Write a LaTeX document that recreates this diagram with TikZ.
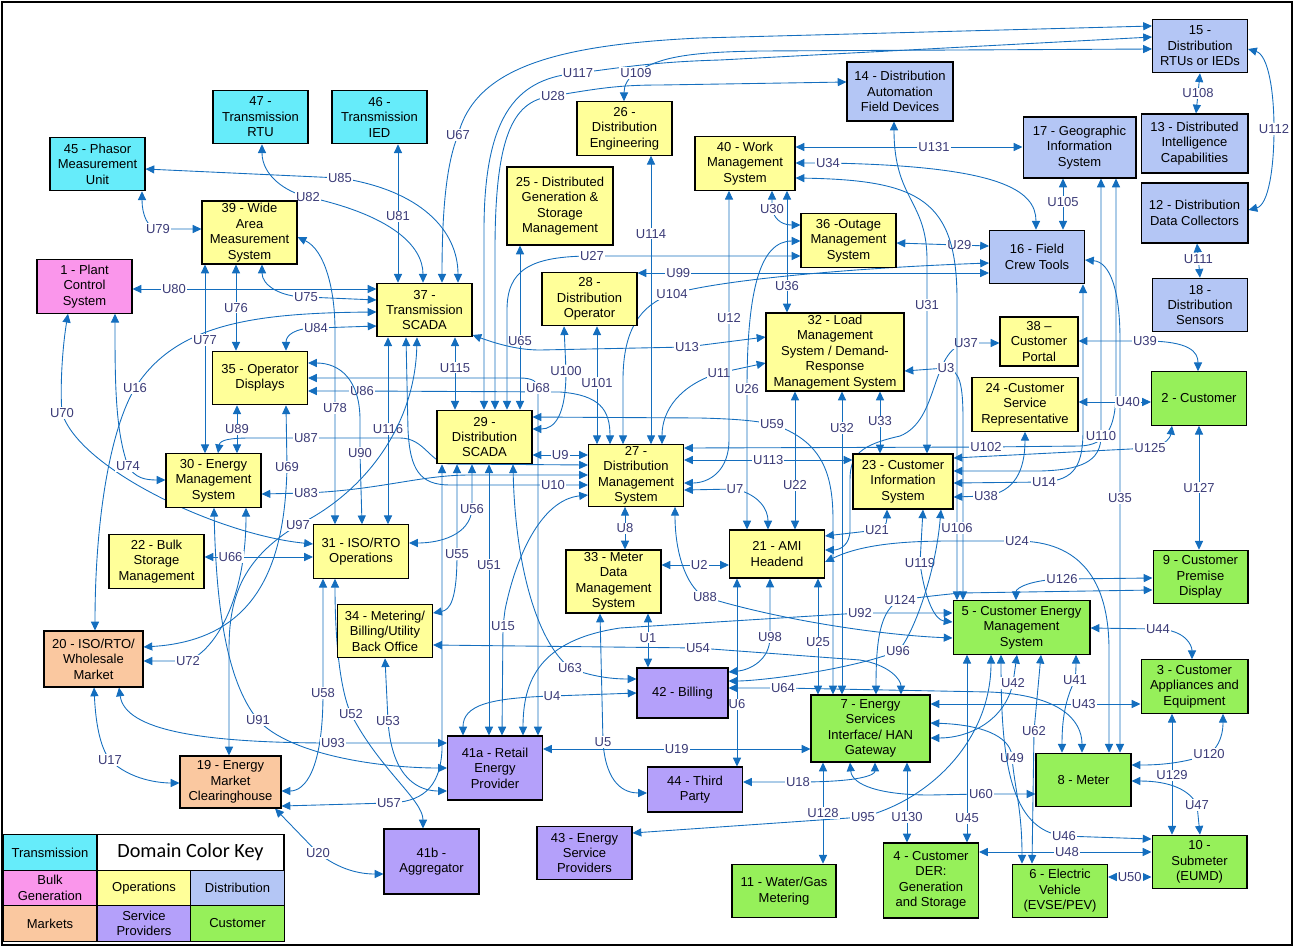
\documentclass[tikz,border=0pt]{standalone}
\usepackage{fontspec}
\setmainfont{Liberation Sans}
\newfontfamily\keyfamily{Carlito}
\usetikzlibrary{arrows.meta}

\definecolor{trans}{RGB}{102,236,250}
\definecolor{bulk}{RGB}{250,150,235}
\definecolor{ops}{RGB}{255,255,153}
\definecolor{dist}{RGB}{180,198,245}
\definecolor{mkt}{RGB}{250,200,160}
\definecolor{svc}{RGB}{180,160,250}
\definecolor{cust}{RGB}{150,240,90}
\definecolor{lnk}{RGB}{20,110,190}
\definecolor{lbltxt}{RGB}{60,60,120}

\pgfdeclarelayer{bg}
\pgfsetlayers{bg,main}

\newcommand\boxfnt{\fontsize{7.4}{8.8}\selectfont}
\newcommand\keyfnt{\keyfamily\fontsize{11.5}{13}\selectfont}

\tikzset{
  blk/.style={draw, line width=0.6pt, align=center, inner sep=1pt,
    minimum width=1.9cm, minimum height=1.07cm, font=\boxfnt},
  transbox/.style={blk, fill=trans},
  bulkbox/.style={blk, fill=bulk},
  opsbox/.style={blk, fill=ops},
  distbox/.style={blk, fill=dist},
  mktbox/.style={blk, fill=mkt},
  svcbox/.style={blk, fill=svc},
  custbox/.style={blk, fill=cust},
  link/.style={draw=lnk, line width=0.5pt, <->, >={Triangle[length=5pt,width=4.6pt]}},
  lbl/.style={fill=white, text=lbltxt, inner sep=0.6pt, font=\boxfnt},
  keycell/.style={draw, line width=0.6pt, align=center, inner sep=1pt,
    minimum width=1.88cm, minimum height=0.71cm, font=\boxfnt},
}

\begin{document}
\begin{tikzpicture}[x=0.02cm, y=-0.02cm]
\useasboundingbox (0,0) rectangle (1294,947);
\draw[line width=0.8pt] (2,2) rectangle (1292,945);

% transmission / bulk
\node[transbox] (n45) at (97.5,164) {45 - Phasor\\Measurement\\Unit};
\node[transbox] (n47) at (260.5,117) {47 -\\Transmission\\RTU};
\node[transbox] (n46) at (379.5,117) {46 -\\Transmission\\IED};
\node[bulkbox] (n1) at (84.5,286.5) {1 - Plant\\Control\\System};

% operations
\node[opsbox, minimum height=1.26cm] (n39) at (249.5,232.5) {39 - Wide\\Area\\Measurement\\System};
\node[opsbox] (n37) at (424.5,310) {37 -\\Transmission\\SCADA};
\node[opsbox] (n26) at (624.5,128.5) {26 -\\Distribution\\Engineering};
\node[opsbox, minimum width=2.12cm, minimum height=1.56cm] (n25) at (560,206) {25 - Distributed\\Generation \&\\Storage\\Management};
\node[opsbox] (n28) at (589.5,299) {28 -\\Distribution\\Operator};
\node[opsbox, minimum width=2cm] (n40) at (745,163.5) {40 - Work\\Management\\System};
\node[opsbox] (n36) at (848.5,240.5) {36 -Outage\\Management\\System};
\node[opsbox] (n35) at (260,378) {35 - Operator\\Displays};
\node[opsbox] (n30) at (213.5,480.5) {30 - Energy\\Management\\System};
\node[opsbox] (n22) at (156.5,561.5) {22 - Bulk\\Storage\\Management};
\node[opsbox] (n31) at (361,551.5) {31 - ISO/RTO\\Operations};
\node[opsbox] (n29) at (484.5,437) {29 -\\Distribution\\SCADA};
\node[opsbox, minimum height=1.18cm] (n27) at (636,475.5) {27 -\\Distribution\\Management\\System};
\node[opsbox, minimum height=1.26cm] (n33) at (613.5,581.5) {33 - Meter\\Data\\Management\\System};
\node[opsbox] (n34) at (385,631) {34 - Metering/\\Billing/Utility\\Back Office};
\node[opsbox, minimum width=2.76cm, minimum height=1.56cm] (n32) at (835,352) {32 - Load\\Management\\System / Demand-\\Response\\Management System};
\node[opsbox, minimum width=2cm, minimum height=1.1cm] (n23) at (903,481.5) {23 - Customer\\Information\\System};
\node[opsbox, minimum height=0.96cm] (n21) at (777,554) {21 - AMI\\Headend};
\node[opsbox, minimum width=1.56cm, minimum height=0.98cm] (n38) at (1039,341.5) {38 –\\Customer\\Portal};
\node[opsbox, minimum width=2.12cm] (n24) at (1025,404.5) {24 -Customer\\Service\\Representative};

% distribution
\node[distbox, minimum width=2.12cm, minimum height=1.18cm] (n14) at (900,91.5) {14 - Distribution\\Automation\\Field Devices};
\node[distbox] (n15) at (1200,46) {15 -\\Distribution\\RTUs or IEDs};
\node[distbox, minimum width=2.14cm, minimum height=1.18cm] (n13) at (1194.5,143.5) {13 - Distributed\\Intelligence\\Capabilities};
\node[distbox, minimum width=2.26cm, minimum height=1.22cm] (n17) at (1079.5,147.5) {17 - Geographic\\Information\\System};
\node[distbox, minimum width=2.14cm, minimum height=1.2cm] (n12) at (1194.5,213) {12 - Distribution\\Data Collectors};
\node[distbox] (n16) at (1037,257) {16 - Field\\Crew Tools};
\node[distbox] (n18) at (1200,305) {18 -\\Distribution\\Sensors};

% markets / service providers
\node[mktbox, minimum width=1.98cm, minimum height=1.12cm] (n20) at (93.5,659) {20 - ISO/RTO/\\Wholesale\\Market};
\node[mktbox, minimum width=2.02cm, minimum height=1.04cm] (n19) at (230.5,782) {19 - Energy\\Market\\Clearinghouse};
\node[svcbox, minimum height=1.28cm] (n41a) at (495,768) {41a - Retail\\Energy\\Provider};
\node[svcbox, minimum height=1.3cm] (n41b) at (431.5,861.5) {41b -\\Aggregator};
\node[svcbox] (n43) at (584.5,853) {43 - Energy\\Service\\Providers};
\node[svcbox, minimum width=1.82cm, minimum height=1cm] (n42) at (682.5,693) {42 - Billing};
\node[svcbox, minimum height=0.9cm] (n44) at (695,789.5) {44 - Third\\Party};

% customer
\node[custbox] (n2) at (1199,398.5) {2 - Customer};
\node[custbox] (n9) at (1200.5,577) {9 - Customer\\Premise\\Display};
\node[custbox, minimum width=2.74cm] (n5) at (1021.5,627.5) {5 - Customer Energy\\Management\\System};
\node[custbox, minimum width=2.38cm, minimum height=1.34cm] (n7) at (870.5,728.5) {7 - Energy\\Services\\Interface/ HAN\\Gateway};
\node[custbox, minimum width=2.08cm] (n11) at (784,891) {11 - Water/Gas\\Metering};
\node[custbox, minimum height=1.5cm] (n4) at (931,880.5) {4 - Customer\\DER:\\Generation\\and Storage};
\node[custbox, minimum width=2.14cm] (n3) at (1194.5,686.5) {3 - Customer\\Appliances and\\Equipment};
\node[custbox] (n8) at (1083.5,780) {8 - Meter};
\node[custbox] (n10) at (1199.5,862) {10 -\\Submeter\\(EUMD)};
\node[custbox] (n6) at (1060,891) {6 - Electric\\Vehicle\\(EVSE/PEV)};

% colour key
\node[keycell, fill=trans] (legtrans) at (50,852.5) {Transmission};
\node[keycell, minimum width=3.74cm, font=\keyfnt] (legtitle) at (190.5,852.5) {Domain Color Key};
\node[keycell, fill=bulk] (legbulk) at (50,888) {Bulk\\Generation};
\node[keycell, fill=ops] (legops) at (144,888) {Operations};
\node[keycell, fill=dist] (legdist) at (237.5,888) {Distribution};
\node[keycell, fill=mkt] (legmkt) at (50,923.5) {Markets};
\node[keycell, fill=svc] (legsvc) at (144,923.5) {Service\\Providers};
\node[keycell, fill=cust] (legcust) at (237.5,923.5) {Customer};

\begin{pgfonlayer}{bg}
% left side
\draw[link] (142,0|-n45.south) .. controls (142,215) and (148,229) .. (158,229) node[lbl] (u79) {U79} -- (n39.west|-0,229);
\draw[link] (n1.east|-0,289) -- node[lbl,pos=0.17] (u80) {U80} (n37.west|-0,289);
\draw[link] (262,0|-n39.south) .. controls (262,285) and (280,297) .. (306,297) node[lbl] (u75) {U75} -- (n37.west|-0,300);
\draw[link] (95,0|-n20.north) .. controls (95,520) and (110,430) .. (135,388) node[lbl] (u16) {U16} .. controls (175,325) and (250,313) .. (n37.west|-0,312);
\draw[link] (286,0|-n35.north) .. controls (286,335) and (295,328) .. (316,328) node[lbl] (u84) {U84} -- (n37.west|-0,326);
\draw[link] (68,0|-n1.south) .. controls (62,350) and (60,390) .. (62,413) node[lbl] (u70) {U70} .. controls (80,470) and (220,535) .. (n31.west|-0,544);
\draw[link] (115,0|-n1.south) .. controls (115,380) and (115,430) .. (128,466) node[lbl] (u74) {U74} .. controls (135,478) and (145,480) .. (n30.west|-0,480);
\draw[link] (205,0|-n39.south) -- node[lbl,pos=0.4] (u77) {U77} (205,0|-n30.north);
\draw[link] (236,0|-n39.south) -- node[lbl,pos=0.5] (u76) {U76} (236,0|-n35.north);
\draw[link] (n39.east|-0,237) .. controls (325,250) and (335,290) .. (335,330) -- (335,408) node[lbl] (u78) {U78} -- (335,0|-n31.north);
\draw[link] (n45.east|-0,169) -- (340,178) node[lbl] (u85) {U85} .. controls (420,190) and (458,230) .. (458,0|-n37.north);
\draw[link] (262,0|-n47.south) .. controls (262,175) and (285,192) .. (308,197) node[lbl] (u82) {U82} .. controls (390,215) and (423,245) .. (423,0|-n37.north);
\draw[link] (398,0|-n46.south) -- node[lbl,pos=0.52] (u81) {U81} (398,0|-n37.north);
\draw[link] (442,0|-n37.north) .. controls (442,200) and (448,160) .. (458,135) node[lbl] (u67) {U67} .. controls (475,70) and (550,45) .. (700,38) -- (n15.west|-0,26);
\draw[link] (484,0|-n29.north) -- (484,230) .. controls (484,110) and (520,78) .. (578,73) node[lbl] (u117) {U117} .. controls (620,68) and (650,62) .. (720,60) -- (n15.west|-0,37);
\draw[link] (495,0|-n29.north) -- (495,250) .. controls (495,130) and (515,100) .. (553,96) node[lbl] (u28) {U28} .. controls (600,88) and (620,85) .. (660,85) -- (n14.west|-0,82);
\draw[link] (624,0|-n26.north) .. controls (624,85) and (628,78) .. (636,73) node[lbl] (u109) {U109} .. controls (660,55) and (700,52) .. (760,51) -- (n15.west|-0,49);
\draw[link] (651,0|-n26.south) -- node[lbl,pos=0.27] (u114) {U114} (651,0|-n27.north);
\draw[link] (520,0|-n25.south) -- node[lbl,pos=0.58] (u65) {U65} (520,0|-n29.north);
\draw[link] (n36.west|-0,256) -- (592,256) node[lbl] (u27) {U27} .. controls (530,256) and (507,270) .. (507,310) -- (507,0|-n29.north);
\draw[link] (n28.east|-0,273) -- node[lbl,pos=0.116] (u99) {U99} (n16.west|-0,273);
\draw[link] (n36.east|-0,243) -- node[lbl,pos=0.68] (u29) {U29} (n16.west|-0,246);
\draw[link] (n16.west|-0,263) .. controls (850,268) and (720,280) .. (672,294) node[lbl] (u104) {U104} .. controls (640,305) and (623,330) .. (623,380) -- (623,0|-n27.north);
\draw[link] (597,0|-n28.south) -- node[lbl,pos=0.48] (u101) {U101} (597,0|-n27.north);
\draw[link] (564,0|-n28.south) -- (566,371) node[lbl] (u100) {U100} .. controls (566,415) and (555,429) .. (n29.east|-0,429);
\draw[link] (n29.east|-0,417) -- (700,418) .. controls (740,419) and (755,421) .. (772,424) node[lbl] (u59) {U59} .. controls (820,440) and (833,470) .. (833,520) -- (833,0|-n7.north);
\draw[link] (n35.east|-0,391) -- (362,391) node[lbl] (u86) {U86} -- (560,392) .. controls (600,395) and (610,410) .. (610,0|-n27.north);
\draw[link] (n35.east|-0,378) -- (520,378) .. controls (533,378) and (538,382) .. (538,388) node[lbl] (u68) {U68} -- (538,0|-n41a.north);
\draw[link] (n35.east|-0,363) .. controls (340,363) and (360,380) .. (360,420) -- (360,453) node[lbl] (u90) {U90} -- (362,0|-n31.north);
\draw[link] (388,0|-n37.south) -- node[lbl,pos=0.49] (u116) {U116} (388,0|-n31.north);
\draw[link] (455,0|-n37.south) -- node[lbl,pos=0.42] (u115) {U115} (455,0|-n29.north);
\draw[link] (n37.east|-0,335) .. controls (500,345) and (520,350) .. (540,350) -- (687,347) node[lbl] (u13) {U13} -- (n32.west|-0,337);
\draw[link] (n32.west|-0,363) -- (719,373) node[lbl] (u11) {U11} .. controls (680,385) and (662,410) .. (662,0|-n27.north);
\draw[link] (729,0|-n40.south) -- (729,318) node[lbl] (u12) {U12} -- (729,440) .. controls (729,470) and (710,483) .. (n27.east|-0,483);
\draw[link] (747,0|-n21.north) -- (747,389) node[lbl] (u26) {U26} .. controls (747,290) and (760,241) .. (n36.west|-0,241);
\draw[link] (772,0|-n40.south) -- (772,209) node[lbl] (u30) {U30} .. controls (775,222) and (785,225) .. (n36.west|-0,225);
\draw[link] (787,0|-n40.south) -- node[lbl,pos=0.78] (u36) {U36} (787,0|-n32.north);
\draw[link] (n40.east|-0,163) -- (828,163) node[lbl] (u34) {U34} .. controls (1000,166) and (1036,190) .. (1036,0|-n16.north);
\draw[link] (n40.east|-0,147) -- node[lbl,pos=0.61] (u131) {U131} (n17.west|-0,147);
\draw[link] (894,0|-n14.south) .. controls (894,200) and (927,200) .. (927,260) -- (927,305) node[lbl] (u31) {U31} -- (927,0|-n23.north);
\draw[link] (880,0|-n32.south) -- node[lbl,pos=0.48] (u33) {U33} (880,0|-n23.north);
\draw[link] (842,0|-n32.south) -- node[lbl,pos=0.12] (u32) {U32} (842,0|-n7.north);
\draw[link] (795,0|-n32.south) -- node[lbl,pos=0.68] (u22) {U22} (795,0|-n21.north);
\draw[link] (887,0|-n23.south) .. controls (887,525) and (882,530) .. (877,530) node[lbl] (u21) {U21} -- (n21.east|-0,536);
\draw[link] (n38.west|-0,343) -- (966,343) node[lbl] (u37) {U37} .. controls (930,350) and (940,420) .. (900,436) .. controls (860,445) and (850,455) .. (850,480) -- (850,530) .. controls (850,545) and (840,550) .. (n21.east|-0,550);
\draw[link] (n32.east|-0,371) -- (946,368) node[lbl] (u3) {U3} .. controls (960,370) and (963,385) .. (963,420) -- (963,0|-n5.north);
\draw[link] (n40.east|-0,178) .. controls (920,180) and (957,200) .. (957,300) -- (957,528) node[lbl] (u106) {U106} -- (957,0|-n5.north);
\draw[link] (n21.east|-0,562) .. controls (860,545) and (900,541) .. (950,541) -- (1017,541) node[lbl] (u24) {U24} .. controls (1080,541) and (1109,580) .. (1109,650) -- (1109,0|-n8.north);
\draw[link] (n16.east|-0,260) .. controls (1110,262) and (1120,290) .. (1120,340) -- (1120,498) node[lbl] (u35) {U35} -- (1120,0|-n8.north);
\draw[link] (1063,0|-n17.south) -- node[lbl,pos=0.45] (u105) {U105} (1063,0|-n16.north);
\draw[link] (1200,0|-n15.south) -- node[lbl,pos=0.5] (u108) {U108} (1196,0|-n13.north);
\draw[link] (1197,0|-n12.south) -- node[lbl,pos=0.45] (u111) {U111} (1200,0|-n18.north);
\draw[link] (n15.east|-0,49) .. controls (1268,55) and (1274,90) .. (1274,129) node[lbl] (u112) {U112} .. controls (1274,170) and (1268,205) .. (n12.east|-0,210);
\draw[link] (n27.east|-0,448) -- (986,447) node[lbl] (u102) {U102} -- (1080,446) .. controls (1105,445) and (1116,430) .. (1116,390) -- (1116,0|-n17.south);
\draw[link] (n27.east|-0,460) -- node[lbl,pos=0.5] (u113) {U113} (n23.west|-0,460);
\draw[link] (1101,0|-n17.south) -- (1101,436) node[lbl] (u110) {U110} .. controls (1101,462) and (1080,470) .. (1040,471) -- (n23.east|-0,471);
\draw[link] (1172,0|-n2.south) .. controls (1170,440) and (1160,447) .. (1150,448) node[lbl] (u125) {U125} -- (n23.east|-0,458);
\draw[link] (n23.east|-0,483) -- (1044,482) node[lbl] (u14) {U14} .. controls (1075,480) and (1083,465) .. (1083,430) -- (1083,0|-n16.south);
\draw[link] (n23.east|-0,497) -- (986,496) node[lbl] (u38) {U38} .. controls (1015,492) and (1025,470) .. (1025,0|-n24.south);
\draw[link] (n38.east|-0,341) -- (1145,341) node[lbl] (u39) {U39} .. controls (1190,341) and (1198,352) .. (1198,0|-n2.north);
\draw[link] (n24.east|-0,402) -- node[lbl,pos=0.68] (u40) {U40} (n2.west|-0,402);
\draw[link] (1199,0|-n2.south) -- node[lbl,pos=0.5] (u127) {U127} (1199,0|-n9.north);
\draw[link] (n9.west|-0,578) -- (1062,579) node[lbl] (u126) {U126} .. controls (1030,580) and (1016,588) .. (1016,0|-n5.north);
\draw[link] (n9.west|-0,590) -- (960,593) .. controls (930,596) and (915,598) .. (900,600) node[lbl] (u124) {U124} .. controls (880,610) and (876,640) .. (876,0|-n7.north);
\draw[link] (923,0|-n23.south) -- (920,563) node[lbl] (u119) {U119} .. controls (925,600) and (935,620) .. (n5.west|-0,622);
\draw[link] (941,0|-n23.south) .. controls (935,580) and (910,640) .. (898,651) node[lbl] (u96) {U96} .. controls (850,670) and (760,681) .. (n42.east|-0,681);
\draw[link] (523,0|-n41a.north) .. controls (523,680) and (540,640) .. (620,628) -- (860,613) node[lbl] (u92) {U92} -- (n5.west|-0,613);
\draw[link] (675,0|-n27.south) .. controls (675,560) and (690,590) .. (705,597) node[lbl] (u88) {U88} .. controls (780,620) and (880,635) .. (n5.west|-0,638);
\draw[link] (770,0|-n21.south) -- (770,637) node[lbl] (u98) {U98} .. controls (770,660) and (750,670) .. (n42.east|-0,672);
\draw[link] (818,0|-n21.south) -- node[lbl,pos=0.55] (u25) {U25} (818,0|-n7.north);
\draw[link] (n42.east|-0,688) -- (783,688) node[lbl] (u64) {U64} -- (990,692) .. controls (1060,695) and (1082,720) .. (1082,0|-n8.north);
\draw[link] (n34.east|-0,645) -- (698,648) node[lbl] (u54) {U54} -- (860,660) .. controls (890,665) and (901,680) .. (901,0|-n7.north);
\draw[link] (648,0|-n33.south) -- node[lbl,pos=0.45] (u1) {U1} (648,0|-n42.north);
\draw[link] (n33.east|-0,565) -- node[lbl,pos=0.56] (u2) {U2} (n21.west|-0,565);
\draw[link] (463,0|-n41a.north) .. controls (463,705) and (490,698) .. (552,696) node[lbl] (u4) {U4} -- (n42.west|-0,693);
\draw[link] (513,0|-n29.south) .. controls (515,560) and (535,640) .. (570,668) node[lbl] (u63) {U63} .. controls (590,676) and (610,679) .. (n42.west|-0,679);
\draw[link] (600,0|-n33.south) -- (603,742) node[lbl] (u5) {U5} .. controls (606,785) and (625,793) .. (n44.west|-0,793);
\draw[link] (737,0|-n21.south) -- node[lbl,pos=0.67] (u6) {U6} (737,0|-n44.north);
\draw[link] (n41a.east|-0,749) -- node[lbl,pos=0.5] (u19) {U19} (n7.west|-0,749);
\draw[link] (n27.east|-0,490) -- (735,489) node[lbl] (u7) {U7} .. controls (760,495) and (768,510) .. (768,0|-n21.north);
\draw[link] (625,0|-n27.south) -- node[lbl,pos=0.5] (u8) {U8} (625,0|-n33.north);
\draw[link] (n29.east|-0,455) -- node[lbl,pos=0.5] (u9) {U9} (n27.west|-0,455);
\draw[link] (406,0|-n37.south) -- (408,430) .. controls (410,470) and (420,485) .. (450,485) -- (553,485) node[lbl] (u10) {U10} -- (n27.west|-0,485);
\draw[link] (n27.west|-0,495) .. controls (540,500) and (515,560) .. (505,610) -- (503,626) node[lbl] (u15) {U15} -- (502,0|-n41a.north);
\draw[link] (489,0|-n29.south) -- node[lbl,pos=0.37] (u51) {U51} (489,0|-n41a.north);
\draw[link] (457,0|-n29.south) -- (457,554) node[lbl] (u55) {U55} .. controls (457,600) and (450,610) .. (n34.east|-0,613);
\draw[link] (472,0|-n29.south) -- (472,509) node[lbl] (u56) {U56} .. controls (470,535) and (440,543) .. (n31.east|-0,543);
\draw[link] (442,0|-n29.south) -- (442,750) .. controls (440,790) and (420,802) .. (389,803) node[lbl] (u57) {U57} -- (n19.east|-0,806);
\draw[link] (323,0|-n31.south) -- (323,693) node[lbl] (u58) {U58} .. controls (323,770) and (305,791) .. (n19.east|-0,791);
\draw[link] (335,0|-n31.south) .. controls (335,640) and (340,690) .. (351,714) node[lbl] (u52) {U52} .. controls (380,770) and (423,800) .. (423,0|-n41b.north);
\draw[link] (385,0|-n34.south) -- (388,721) node[lbl] (u53) {U53} .. controls (392,780) and (420,791) .. (n41a.west|-0,791);
\draw[link] (214,0|-n30.south) .. controls (216,600) and (225,680) .. (258,720) node[lbl] (u91) {U91} .. controls (290,755) and (380,768) .. (n41a.west|-0,768);
\draw[link] (119,0|-n20.south) .. controls (125,730) and (200,743) .. (333,743) node[lbl] (u93) {U93} -- (n41a.west|-0,743);
\draw[link] (94,0|-n20.south) .. controls (96,730) and (102,750) .. (110,760) node[lbl] (u17) {U17} .. controls (130,780) and (160,783) .. (n19.west|-0,783);
\draw[link] (275,0|-n19.south) -- (318,853) node[lbl] (u20) {U20} .. controls (340,870) and (360,874) .. (n41b.west|-0,874);
\draw[link] (n20.east|-0,661) -- (188,661) node[lbl] (u72) {U72} .. controls (215,650) and (246,600) .. (246,0|-n30.south);
\draw[link] (286,0|-n35.south) -- (287,467) node[lbl] (u69) {U69} .. controls (285,560) and (260,640) .. (n20.east|-0,647);
\draw[link] (417,0|-n37.south) .. controls (415,430) and (360,495) .. (298,525) node[lbl] (u97) {U97} .. controls (240,560) and (229,600) .. (229,650) -- (229,0|-n19.north);
\draw[link] (218,0|-n30.north) .. controls (220,440) and (230,438) .. (250,438) -- (306,438) node[lbl] (u87) {U87} -- (400,438) .. controls (425,438) and (430,464) .. (450,464) -- (n27.west|-0,465);
\draw[link] (n30.east|-0,494) -- (306,493) node[lbl] (u83) {U83} .. controls (380,490) and (420,475) .. (470,475) -- (n27.west|-0,475);
\draw[link] (237,0|-n35.south) -- node[lbl,pos=0.5] (u89) {U89} (237,0|-n30.north);
\draw[link] (n22.east|-0,557) -- node[lbl,pos=0.24] (u66) {U66} (n31.west|-0,557);
% customer side
\draw[link] (n43.east|-0,833) -- (863,817) node[lbl] (u95) {U95} .. controls (930,800) and (991,740) .. (991,0|-n5.south);
\draw[link] (n7.east|-0,723) .. controls (990,725) and (1012,740) .. (1012,758) node[lbl] (u49) {U49} .. controls (1015,790) and (1022,810) .. (1022,0|-n6.north);
\draw[link] (967,0|-n5.south) -- node[lbl,pos=0.87] (u45) {U45} (967,0|-n4.north);
\draw[link] (1041,0|-n5.south) -- (1034,731) node[lbl] (u62) {U62} -- (1032,0|-n6.north);
\draw[link] (n10.west|-0,839) -- (1064,836) node[lbl] (u46) {U46} .. controls (1010,830) and (1001,760) .. (1001,0|-n5.south);
\draw[link] (1017,0|-n5.south) -- (1013,683) node[lbl] (u42) {U42} .. controls (1005,720) and (970,738) .. (n7.east|-0,738);
\draw[link] (1076,0|-n5.south) .. controls (1076,665) and (1076,672) .. (1075,680) node[lbl] (u41) {U41} .. controls (1065,700) and (1062,720) .. (1062,0|-n8.north);
\draw[link] (n7.east|-0,704) -- node[lbl,pos=0.73] (u43) {U43} (n3.west|-0,704);
\draw[link] (n5.east|-0,628) -- (1158,629) node[lbl] (u44) {U44} .. controls (1185,630) and (1192,645) .. (1192,0|-n3.north);
\draw[link] (n4.east|-0,852) -- node[lbl,pos=0.51] (u48) {U48} (n10.west|-0,852);
\draw[link] (n6.east|-0,877) -- node[lbl,pos=0.5] (u50) {U50} (n10.west|-0,877);
\draw[link] (n8.east|-0,781) .. controls (1170,781) and (1190,790) .. (1197,805) node[lbl] (u47) {U47} -- (1200,0|-n10.north);
\draw[link] (1223,0|-n3.south) .. controls (1223,740) and (1215,750) .. (1209,754) node[lbl] (u120) {U120} .. controls (1180,765) and (1150,765) .. (n8.east|-0,765);
\draw[link] (1172,0|-n3.south) -- node[lbl,pos=0.51] (u129) {U129} (1172,0|-n10.north);
\draw[link] (850,0|-n7.south) .. controls (852,785) and (880,795) .. (930,795) -- (981,794) node[lbl] (u60) {U60} -- (n8.west|-0,794);
\draw[link] (n44.east|-0,782) -- (798,782) node[lbl] (u18) {U18} .. controls (860,782) and (875,775) .. (875,0|-n7.south);
\draw[link] (823,0|-n7.south) -- node[lbl,pos=0.5] (u128) {U128} (823,0|-n11.north);
\draw[link] (907,0|-n7.south) -- node[lbl,pos=0.68] (u130) {U130} (907,0|-n4.north);
\end{pgfonlayer}
\end{tikzpicture}
\end{document}
